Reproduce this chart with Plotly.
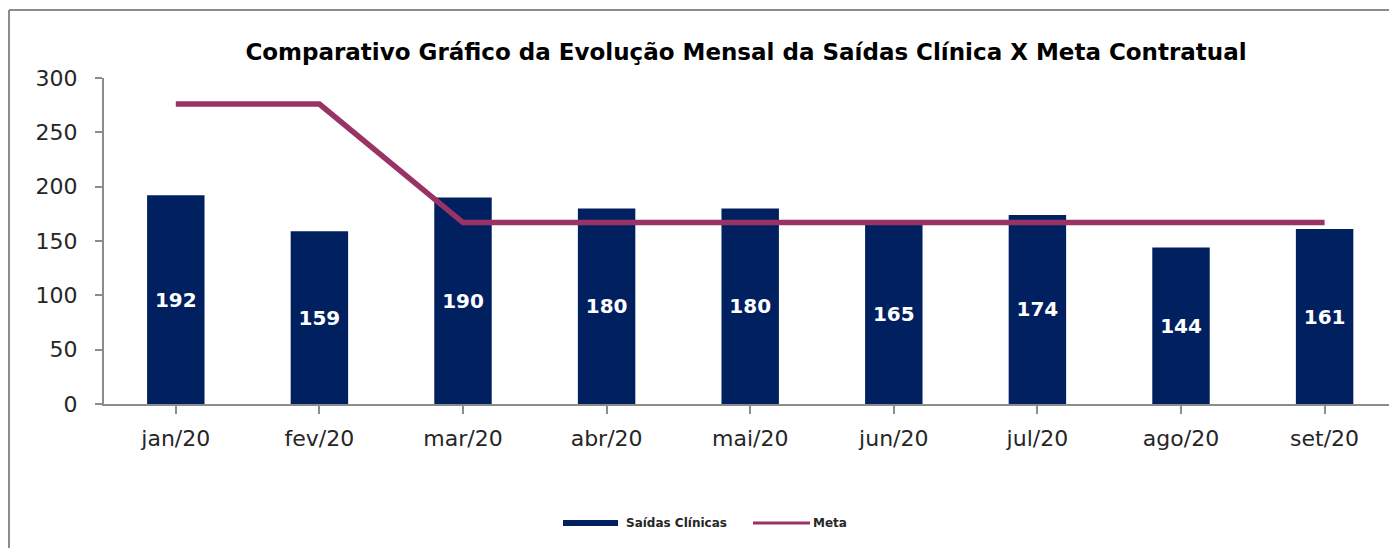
import plotly.graph_objects as go

months = ["jan/20", "fev/20", "mar/20", "abr/20", "mai/20", "jun/20", "jul/20", "ago/20", "set/20"]
saidas = [192, 159, 190, 180, 180, 165, 174, 144, 161]
meta = [276, 276, 167, 167, 167, 167, 167, 167, 167]
y_ticks = [0, 50, 100, 150, 200, 250, 300]

NAVY = "#002060"
PLUM = "#993366"
FONT = "DejaVu Sans"

W, H = 1389, 548
L, R, T, B = 104, 0, 78, 144
PW, PH = W - L - R, H - T - B

def px(xp):
    return (xp - L) / PW

def py(yp):
    return (H - B - yp) / PH

fig = go.Figure()
fig.add_trace(go.Bar(
    x=list(range(len(months))), y=saidas, name="Saídas Clínicas",
    marker=dict(color=NAVY, line=dict(width=0)), width=0.4,
    text=[str(v) for v in saidas], textposition="inside", insidetextanchor="middle",
    textfont=dict(family=FONT, size=20, color="white", weight="bold"),
    showlegend=False,
))
fig.add_trace(go.Scatter(
    x=list(range(len(months))), y=meta, name="Meta", mode="lines",
    line=dict(color=PLUM, width=5.5), showlegend=False,
))

shapes = [
    dict(type="line", xref="paper", yref="paper", x0=px(9), x1=px(9), y0=py(10), y1=py(560),
         line=dict(color="#8c8c8c", width=2)),
    dict(type="line", xref="paper", yref="paper", x0=px(9), x1=px(1395), y0=py(10), y1=py(10),
         line=dict(color="#8c8c8c", width=2)),
    dict(type="rect", xref="paper", yref="paper", x0=px(563), x1=px(618), y0=py(526), y1=py(520),
         fillcolor=NAVY, line=dict(width=0)),
    dict(type="line", xref="paper", yref="paper", x0=px(753), x1=px(810), y0=py(523), y1=py(523),
         line=dict(color=PLUM, width=3)),
]
annotations = [
    dict(xref="paper", yref="paper", x=px(624), y=py(523), xanchor="left", yanchor="middle",
         text="Saídas Clínicas", showarrow=False,
         font=dict(family=FONT, size=12, color="#262626", weight="bold")),
    dict(xref="paper", yref="paper", x=px(811), y=py(523), xanchor="left", yanchor="middle",
         text="Meta", showarrow=False,
         font=dict(family=FONT, size=12, color="#262626", weight="bold")),
]

fig.update_layout(
    width=W, height=H,
    margin=dict(l=L, r=R, t=T, b=B, pad=0),
    paper_bgcolor="white", plot_bgcolor="white",
    title=dict(text="Comparativo Gráfico da Evolução Mensal da Saídas Clínica X Meta Contratual",
               xref="container", x=746 / W, xanchor="center",
               yref="container", y=1 - 52 / H, yanchor="middle",
               font=dict(family=FONT, size=23, color="black", weight="bold")),
    xaxis=dict(
        range=[-0.5, -0.5 + PW / 143.6], tickmode="array",
        tickvals=list(range(len(months))), ticktext=months,
        showline=True, linecolor="#8c8c8c", linewidth=2,
        ticks="outside", tickson="boundaries", ticklen=8, tickcolor="#8c8c8c", tickwidth=2,
        showgrid=False, zeroline=False,
        tickfont=dict(family=FONT, size=22, color="#262626"),
        ticklabelstandoff=6,
    ),
    yaxis=dict(
        range=[0, 300], tickmode="array", tickvals=y_ticks,
        showline=True, linecolor="#8c8c8c", linewidth=2,
        ticks="outside", ticklen=7, tickcolor="#8c8c8c", tickwidth=2,
        showgrid=False, zeroline=False,
        tickfont=dict(family=FONT, size=22, color="#262626"),
        ticklabelstandoff=13,
    ),
    shapes=shapes, annotations=annotations,
    bargap=0.6, showlegend=False,
)

fig.write_html("out.html", config={"displayModeBar": False},
               post_script="document.body.style.margin='0';")
